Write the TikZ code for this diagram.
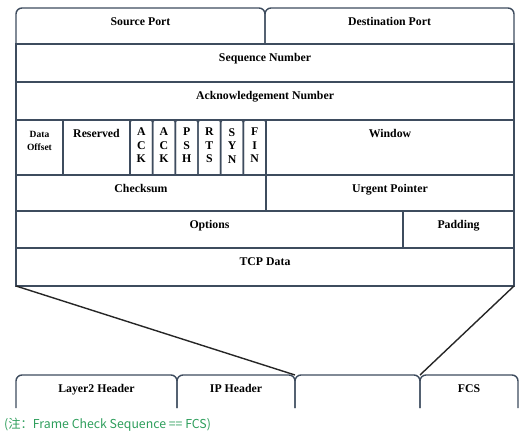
\documentclass[tikz,border=0pt]{standalone}
\usepackage{fontspec}
\setmainfont{Liberation Serif}
\newfontfamily\notefont{Noto Sans CJK SC}
\usepackage{xcolor}
\definecolor{frame}{HTML}{3E4C5E}
\definecolor{notegreen}{HTML}{2E9E5C}

\begin{document}
\begin{tikzpicture}[x=1pt, y=-1pt, font=\bfseries\fontsize{11.8}{13.5}\selectfont]
            \tikzset{
                field/.style 2 args={rectangle, draw=frame, line width=1.4pt, outer sep=0pt,
                        inner sep=0pt, anchor=north west, minimum width=#1pt, minimum height=#2pt},
                tab/.style={draw=none},
                lbl/.style={anchor=north, inner sep=0pt, yshift=-9pt, align=center},
                rim/.style={draw=frame, line width=1.4pt},
                link/.style={line width=1.4pt, black!85},
            }
            \useasboundingbox (0,0) rectangle (527,439);

            % ---- TCP HEADER ----

            % ports
            \node[field={249}{36}, tab, label={[lbl]north:Source Port}] (src) at (16,8) {};
            \node[field={249}{36}, tab, label={[lbl]north:Destination Port}] (dst) at (265,8) {};

            % numbers
            \node[field={498}{38}, label={[lbl]north:Sequence Number}] (seq) at (16,44) {};
            \node[field={498}{38}, label={[lbl]north:Acknowledgement Number}] (ackno) at (16,82) {};

            % offset, reserved, flags, window
            \node[field={47}{55}, label={[lbl, yshift=-2pt, font=\bfseries\fontsize{9.5}{13}\selectfont]north:Data\\Offset}] (doff) at (16,120) {};
            \node[field={67}{55}, label={[lbl]north:Reserved}] (resv) at (63,120) {};
            \foreach \f/\t [count=\i from 0] in {ackA/{A\\C\\K}, ackB/{A\\C\\K}, psh/{P\\S\\H},
                    rts/{R\\T\\S}, syn/{S\\Y\\N}, fin/{F\\I\\N}} {
                    \node[field={22.67}{55}, tab, label={[lbl, yshift=1pt]north:\t}] (\f) at ({130+\i*22.67},120) {};
                }
            \node[field={248}{55}, label={[lbl]north:Window}] (win) at (266,120) {};

            % checksum, urgent pointer
            \node[field={250}{36}, label={[lbl]north:Checksum}] (chk) at (16,175) {};
            \node[field={248}{36}, label={[lbl]north:Urgent Pointer}] (urg) at (266,175) {};

            % options, padding
            \node[field={387}{37}, label={[lbl]north:Options}] (opt) at (16,211) {};
            \node[field={111}{37}, label={[lbl]north:Padding}] (pad) at (403,211) {};

            % data
            \node[field={498}{38}, label={[lbl]north:TCP Data}] (tcp) at (16,248) {};

            % ---- FRAME ----
            \node[field={161}{33}, tab, label={[lbl]north:Layer2 Header}] (ltwo) at (16,375) {};
            \node[field={118}{33}, tab, label={[lbl]north:IP Header}] (iph) at (177,375) {};
            \node[field={125}{33}, tab] (load) at (295,375) {};
            \node[field={98}{33}, tab, label={[lbl]north:FCS}] (fcs) at (420,375) {};

            % rounded tops
            \foreach \n in {src, dst, ltwo, iph, load, fcs} {
                    \draw[rim, rounded corners=6pt] (\n.south west) |- (\n.north east) -- (\n.south east);
                }
            \foreach \n in {ackA, ackB, psh, rts, syn, fin} {
                    \draw[rim, rounded corners=2.5pt] (\n.south west) |- (\n.north east) -- (\n.south east);
                }

            % zoom lines
            \draw[link] (tcp.south west) -- (load.north west);
            \draw[link] (tcp.south east) -- (load.north east);

            % note
            \node[anchor=west, inner sep=0pt, text=notegreen, font=\notefont\fontsize{12.3}{14}\selectfont] (memo) at (4,425)
                {(注：Frame Check Sequence == FCS)};

        \end{tikzpicture}
\end{document}
